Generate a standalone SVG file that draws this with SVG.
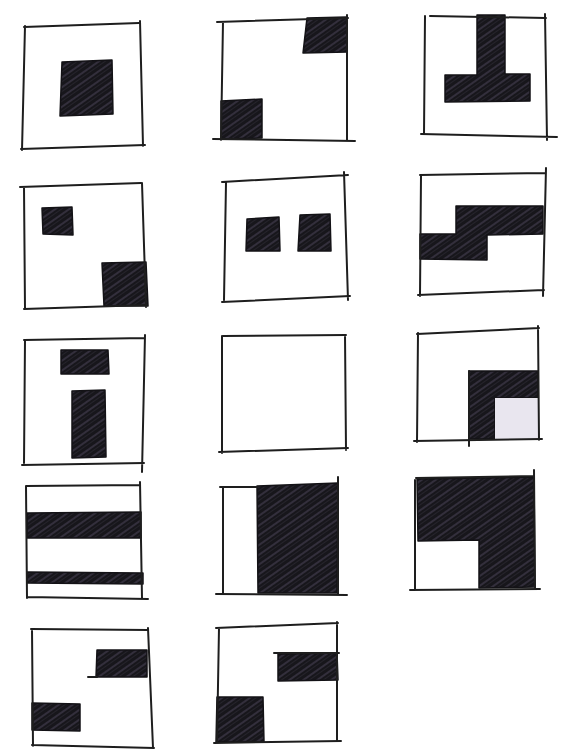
<svg xmlns="http://www.w3.org/2000/svg" width="561" height="754" viewBox="0 0 561 754">
<defs>
<pattern id="hatch" patternUnits="userSpaceOnUse" width="8" height="8" patternTransform="rotate(-35)">
<rect width="8" height="8" fill="#17161b"/>
<line x1="0" y1="3" x2="8" y2="3" stroke="#3f3a4a" stroke-width="1.4"/>
<line x1="0" y1="6.5" x2="8" y2="6.5" stroke="#26242c" stroke-width="1"/>
</pattern>
<style>
.frame{fill:none;stroke:#1e1e1e;stroke-width:2;stroke-linecap:round;stroke-linejoin:round}
.dark{fill:url(#hatch);stroke:#131216;stroke-width:1.5;stroke-linejoin:round}
.light{fill:#e9e6ef}
</style>
</defs>
<rect width="561" height="754" fill="#ffffff"/>

<!-- Row 1 -->
<g id="s1">
<path class="dark" d="M62,62 L112,60 L113,114 L60,116 Z"/>
<path class="frame" d="M24,27 L139,23 M140,21 L143,146 M145,145 L21,149 M22,150 L25,26"/>
</g>
<g id="s2">
<path class="dark" d="M307,18 L347,17 L347,52 L303,53 Z"/>
<path class="dark" d="M221,101 L262,99 L262,138 L221,139 Z"/>
<path class="frame" d="M217,22 L348,18 M347,15 L347,141 M355,141 L213,139 M221,140 L223,22"/>
</g>
<g id="s3">
<path class="dark" d="M477,15 L505,15 L505,74 L530,74 L530,101 L445,102 L445,75 L477,75 Z"/>
<path class="frame" d="M430,16 L546,18 M545,14 L547,140 M557,137 L421,134 M424,134 L425,16"/>
</g>

<!-- Row 2 -->
<g id="s4">
<path class="dark" d="M42,208 L72,207 L73,235 L43,234 Z"/>
<path class="dark" d="M102,263 L146,262 L148,306 L104,306 Z"/>
<path class="frame" d="M20,187 L141,183 M142,183 L146,307 M147,305 L24,309 M25,309 L24,187"/>
</g>
<g id="s5">
<path class="dark" d="M247,219 L279,217 L280,251 L246,251 Z"/>
<path class="dark" d="M300,215 L330,214 L331,251 L298,251 Z"/>
<path class="frame" d="M222,182 L348,175 M344,172 L348,300 M350,296 L222,302 M224,300 L226,183"/>
</g>
<g id="s6">
<path class="dark" d="M456,206 L543,206 L543,234 L487,235 L487,260 L420,259 L420,234 L456,234 Z"/>
<path class="frame" d="M420,175 L546,173 M546,168 L543,296 M544,290 L418,295 M420,296 L421,176"/>
</g>

<!-- Row 3 -->
<g id="s7">
<path class="dark" d="M61,350 L108,350 L109,374 L61,374 Z"/>
<path class="dark" d="M72,391 L105,390 L106,457 L72,458 Z"/>
<path class="frame" d="M24,340 L145,338 M145,335 L142,472 M144,463 L22,465 M24,463 L25,340"/>
</g>
<g id="s8">
<path class="frame" d="M223,336 L346,335 M345,335 L346,450 M348,448 L219,452 M222,453 L222,336"/>
</g>
<g id="s9">
<path class="dark" d="M469,371 L538,371 L538,398 L495,398 L495,439 L469,439 Z"/>
<rect class="light" x="495" y="398" width="43" height="41"/>
<path class="frame" d="M417,334 L539,328 M538,326 L539,440 M542,439 L414,441 M417,442 L418,333"/>
<path class="frame" d="M469,371 L469,446"/>
</g>

<!-- Row 4 -->
<g id="s10">
<path class="dark" d="M27,513 L141,512 L141,538 L27,538 Z"/>
<path class="dark" d="M27,572 L143,573 L143,584 L27,583 Z"/>
<path class="frame" d="M26,486 L140,485 M140,482 L142,598 M148,599 L27,597 M27,598 L26,486"/>
</g>
<g id="s11">
<path class="dark" d="M257,486 L338,483 L337,593 L258,593 Z"/>
<path class="frame" d="M220,487 L258,487 M338,477 L338,594 M347,595 L216,594 M223,594 L223,487"/>
</g>
<g id="s12">
<path class="dark" d="M417,479 L534,477 L535,587 L479,588 L479,540 L418,541 Z"/>
<path class="frame" d="M416,478 L534,476 M534,470 L535,588 M540,589 L410,590 M415,590 L415,480"/>
</g>

<!-- Row 5 -->
<g id="s13">
<path class="dark" d="M97,650 L147,650 L147,677 L96,677 Z"/>
<path class="frame" d="M88,677 L97,677"/>
<path class="dark" d="M32,703 L80,704 L80,731 L32,730 Z"/>
<path class="frame" d="M31,629 L148,630 M148,628 L153,748 M154,748 L32,745 M33,746 L32,629"/>
</g>
<g id="s14">
<path class="dark" d="M278,654 L337,653 L338,680 L278,681 Z"/>
<path class="dark" d="M217,697 L263,697 L264,742 L216,742 Z"/>
<path class="frame" d="M216,628 L338,623 M337,622 L337,741 M341,741 L214,743 M217,743 L219,628"/>
<path class="frame" d="M274,653 L339,653"/>
</g>
</svg>
